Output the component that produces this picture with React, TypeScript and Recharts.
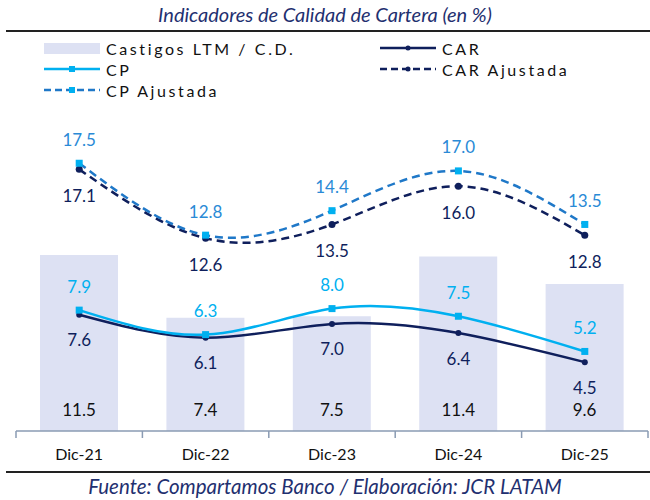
import { Bar, ComposedChart, LabelList, Line, XAxis, YAxis } from "recharts";

// Indicadores de Calidad de Cartera (en %): castigos as bars, CAR / CP and
// their adjusted versions as smoothed lines, all on one hidden % axis.

const periods = ["Dic-21", "Dic-22", "Dic-23", "Dic-24", "Dic-25"];
const castigos = [11.5, 7.4, 7.5, 11.4, 9.6];
const car = [7.6, 6.1, 7.0, 6.4, 4.5];
const cp = [7.9, 6.3, 8.0, 7.5, 5.2];
const carAjustada = [17.1, 12.6, 13.5, 16.0, 12.8];
const cpAjustada = [17.5, 12.8, 14.4, 17.0, 13.5];

const data = periods.map((period, i) => ({
  period,
  castigos: castigos[i],
  car: car[i],
  cp: cp[i],
  carAj: carAjustada[i],
  cpAj: cpAjustada[i],
}));

const NAVY = "#0F1F5C";
const CYAN = "#00B0F0";
const MID = "#1F78C8";
const BAR = "#DDE1F3";
const FONT = "Lato, 'Open Sans', sans-serif";

const W = 650;
const H = 500;
const margin = { top: 125, right: 2, bottom: 39, left: 16 };
const band = (W - margin.left - margin.right) / periods.length;

const lineLabel = (color: string, dy: number) => (props: any) => {
  const { x, y, value } = props;
  return (
    <text
      x={x}
      y={y + dy}
      textAnchor="middle"
      dominantBaseline="central"
      fill={color}
      fontSize={17}
      fontFamily={FONT}
    >
      {Number(value).toFixed(1)}
    </text>
  );
};

const barLabel = (props: any) => {
  const { x, y, width, height, value } = props;
  return (
    <text
      x={x + width / 2}
      y={y + height - 22}
      textAnchor="middle"
      dominantBaseline="central"
      fill="#111"
      fontSize={17}
      fontFamily={FONT}
    >
      {Number(value).toFixed(1)}
    </text>
  );
};

const square = (color: string, size: number) => (props: any) => {
  const { cx, cy, index } = props;
  return (
    <rect key={index} x={cx - size / 2} y={cy - size / 2} width={size} height={size} fill={color} />
  );
};

const circle = (color: string, r: number) => (props: any) => {
  const { cx, cy, index } = props;
  return <circle key={index} cx={cx} cy={cy} r={r} fill={color} />;
};

function PeriodTick({ x, y, payload, index }: any) {
  const left = x - band / 2;
  const right = x + band / 2;
  return (
    <g>
      <line x1={left} x2={left} y1={y} y2={y + 7} stroke="#8A9BB3" strokeWidth={1.5} />
      {index === periods.length - 1 && (
        <line x1={right} x2={right} y1={y} y2={y + 7} stroke="#8A9BB3" strokeWidth={1.5} />
      )}
      <text x={x} y={y + 22} textAnchor="middle" dominantBaseline="central" fill="#111" fontSize={16} fontFamily={FONT}>
        {payload.value}
      </text>
    </g>
  );
}

const legendText = { fontFamily: FONT, fontSize: 16, letterSpacing: "2.6px", fill: "#111" };

function LegendBox() {
  const item = (x: number, y: number, label: string, mark: React.ReactNode) => (
    <g key={label}>
      {mark}
      <text x={x + 62} y={y} dominantBaseline="central" {...legendText}>
        {label}
      </text>
    </g>
  );
  const seg = (x: number, y: number, color: string, dashed: boolean) => (
    <line x1={x} x2={x + 56} y1={y} y2={y} stroke={color} strokeWidth={2.5} strokeDasharray={dashed ? "7 4" : undefined} />
  );
  return (
    <svg width={W} height={70} style={{ display: "block" }}>
      {item(44, 12, "Castigos LTM / C.D.", <rect x={44} y={7} width={56} height={11} fill={BAR} />)}
      {item(380, 12, "CAR", <g>{seg(380, 12, NAVY, false)}<circle cx={408} cy={12} r={2.5} fill={NAVY} /></g>)}
      {item(44, 33, "CP", <g>{seg(44, 33, CYAN, false)}<rect x={69} y={30} width={6} height={6} fill={CYAN} /></g>)}
      {item(380, 33, "CAR Ajustada", <g>{seg(380, 33, NAVY, true)}<circle cx={408} cy={33} r={2.5} fill={NAVY} /></g>)}
      {item(44, 54, "CP Ajustada", <g>{seg(44, 54, MID, true)}<rect x={69} y={51} width={6} height={6} fill={CYAN} /></g>)}
    </svg>
  );
}

export default function App() {
  return (
    <div style={{ position: "absolute", left: 0, top: 0, width: W, height: H, background: "#fff", fontFamily: FONT }}>
      <div
        style={{
          position: "absolute",
          top: 2,
          width: W,
          textAlign: "center",
          fontStyle: "italic",
          fontSize: 20,
          color: "#1F3070",
        }}
      >
        Indicadores de Calidad de Cartera (en %)
      </div>
      <div style={{ position: "absolute", left: 6, top: 30, width: W - 6, height: 2, background: "#222" }} />
      <div style={{ position: "absolute", left: 0, top: 36 }}>
        <LegendBox />
      </div>
      <ComposedChart width={W} height={H} data={data} margin={margin} barCategoryGap="19%">
        <XAxis
          dataKey="period"
          height={30}
          tickLine={false}
          tickSize={0}
          tickMargin={0}
          axisLine={{ stroke: "#8A9BB3", strokeWidth: 1.5 }}
          tick={<PeriodTick />}
          interval={0}
        />
        <YAxis hide domain={[0, 20]} />
        <Bar dataKey="castigos" fill={BAR} isAnimationActive={false}>
          <LabelList dataKey="castigos" content={barLabel} />
        </Bar>
        <Line
          type="natural"
          dataKey="car"
          stroke={NAVY}
          strokeWidth={2.5}
          dot={circle(NAVY, 3)}
          activeDot={false}
          isAnimationActive={false}
        >
          <LabelList dataKey="car" content={lineLabel(NAVY, 25)} />
        </Line>
        <Line
          type="natural"
          dataKey="cp"
          stroke={CYAN}
          strokeWidth={2.5}
          dot={square(CYAN, 7)}
          activeDot={false}
          isAnimationActive={false}
        >
          <LabelList dataKey="cp" content={lineLabel(CYAN, -24)} />
        </Line>
        <Line
          type="natural"
          dataKey="carAj"
          stroke={NAVY}
          strokeWidth={2.5}
          strokeDasharray="8 5"
          dot={circle(NAVY, 3.5)}
          activeDot={false}
          isAnimationActive={false}
        >
          <LabelList dataKey="carAj" content={lineLabel(NAVY, 26)} />
        </Line>
        <Line
          type="natural"
          dataKey="cpAj"
          stroke={MID}
          strokeWidth={2.5}
          strokeDasharray="8 5"
          dot={square(CYAN, 7)}
          activeDot={false}
          isAnimationActive={false}
        >
          <LabelList dataKey="cpAj" content={lineLabel("#2A8AD6", -24)} />
        </Line>
      </ComposedChart>
      <div style={{ position: "absolute", left: 6, top: 471, width: W - 6, height: 2, background: "#222" }} />
      <div
        style={{
          position: "absolute",
          top: 474,
          width: W,
          textAlign: "center",
          fontStyle: "italic",
          fontSize: 20.5,
          color: "#1F3070",
        }}
      >
        Fuente: Compartamos Banco / Elaboración: JCR LATAM
      </div>
    </div>
  );
}
